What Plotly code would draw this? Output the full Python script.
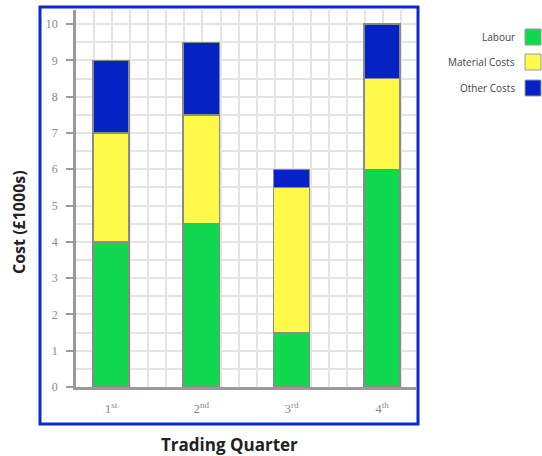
import plotly.graph_objects as go

quarters = ["1<sup>st</sup>", "2<sup>nd</sup>", "3<sup>rd</sup>", "4<sup>th</sup>"]
series_names = ["Labour", "Material Costs", "Other Costs"]
labour = [4, 4.5, 1.5, 6]
material = [3, 3, 4, 2.5]
other = [2, 2, 0.5, 1.5]
colors = ["#10d950", "#fff94a", "#0523c2"]
x_title = "Trading Quarter"
y_title = "Cost (£1000s)"

xpos = list(range(len(quarters)))
fig = go.Figure()
for name, vals, c in zip(series_names, [labour, material, other], colors):
    fig.add_trace(go.Bar(x=xpos, y=vals, name=name, width=0.4,
                         marker=dict(color=c, line=dict(color="#8a8a8a", width=1.5)),
                         showlegend=False))

W, H = 542, 456
L, R, T, B = 76, 126, 10, 69
pw, ph = W - L - R, H - T - B

def px(x):
    return (x - L) / pw

def py(y):
    return (H - B - y) / ph

grid = "#e4e4e4"
fig.update_layout(
    width=W, height=H, barmode="stack",
    margin=dict(l=L, r=R, t=T, b=B),
    paper_bgcolor="white", plot_bgcolor="white",
    xaxis=dict(range=[-0.387, 3.377], tickmode="array", tickvals=xpos, ticktext=quarters,
               showgrid=False, zeroline=False, showline=True, linecolor="#9a9a9a", linewidth=2.5,
               ticks="", ticklabelstandoff=8,
               tickfont=dict(family="Liberation Serif", size=13, color="#8a8a8a"),
               minor=dict(tick0=-0.387, dtick=0.2, showgrid=True, gridcolor=grid, gridwidth=1.5, ticks="")),
    yaxis=dict(range=[0, 10.39], tickmode="linear", tick0=0, dtick=1,
               showgrid=True, gridcolor=grid, gridwidth=1.5, zeroline=False,
               showline=True, linecolor="#9a9a9a", linewidth=2.5,
               ticks="outside", ticklen=7, tickwidth=2, tickcolor="#9a9a9a",
               ticklabelstandoff=6,
               tickfont=dict(family="Liberation Serif", size=12, color="#8a8a8a"),
               minor=dict(dtick=0.5, showgrid=True, gridcolor=grid, gridwidth=1.5, ticks="")),
)

# axis titles
fig.add_annotation(xref="paper", yref="paper", x=px(229), y=py(444), text="<b>" + x_title + "</b>",
                   xanchor="center", yanchor="middle", showarrow=False,
                   font=dict(family="Open Sans", size=17, color="#222"))
fig.add_annotation(xref="paper", yref="paper", x=px(19), y=py(222), text="<b>" + y_title + "</b>",
                   xanchor="center", yanchor="middle", showarrow=False, textangle=-90,
                   font=dict(family="Open Sans", size=16, color="#222"))

# blue frame
fig.add_shape(type="rect", xref="paper", yref="paper",
              x0=px(40), x1=px(418), y0=py(424), y1=py(7),
              line=dict(color="#0a2ad0", width=3), fillcolor="rgba(0,0,0,0)", layer="below")

# manual legend
leg_y = [37, 62, 88]
for name, c, yy in zip(series_names, colors, leg_y):
    fig.add_annotation(xref="paper", yref="paper", x=px(517), y=py(yy), text=name,
                       xanchor="right", yanchor="middle", showarrow=False,
                       font=dict(family="Open Sans", size=10, color="#444"))
    fig.add_shape(type="rect", xref="paper", yref="paper",
                  x0=px(525), x1=px(541), y0=py(yy + 8), y1=py(yy - 8),
                  line=dict(color="#9a9a9a", width=1), fillcolor=c)

fig.write_html("out.html")
